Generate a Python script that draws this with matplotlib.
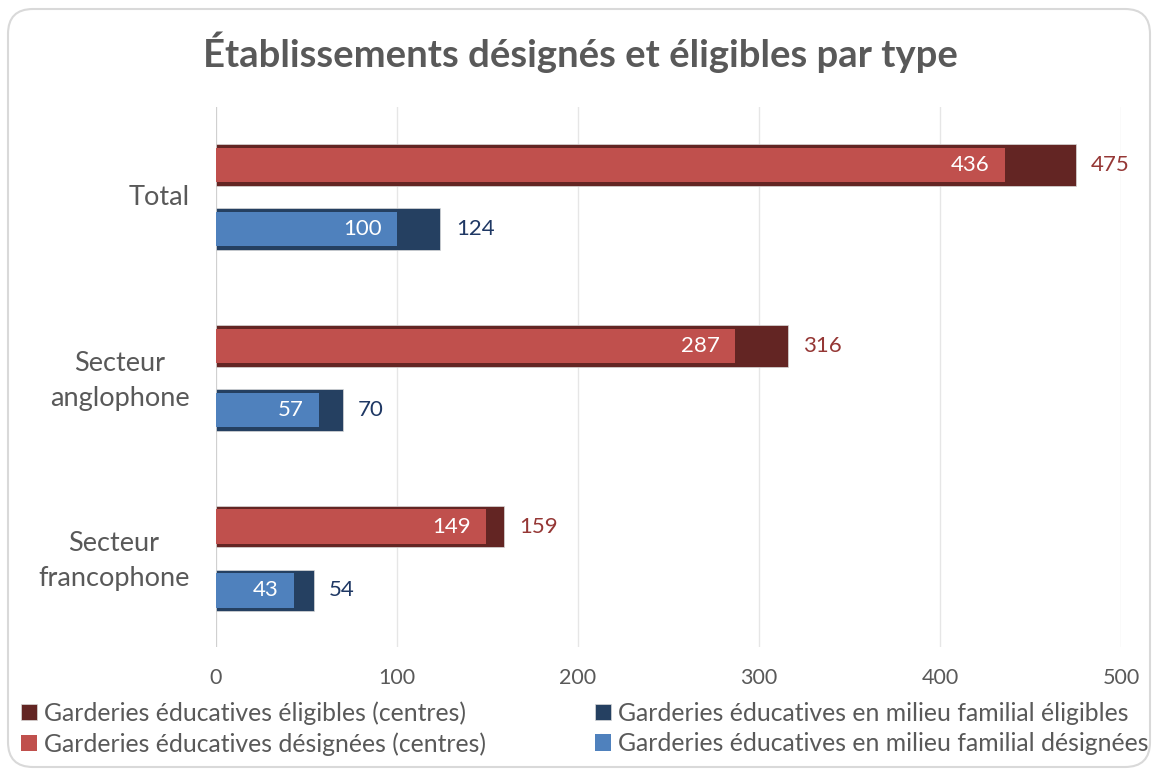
import numpy as np
import matplotlib.pyplot as plt
from matplotlib.patches import FancyBboxPatch

plt.rcParams['font.family'] = ['Lato', 'DejaVu Sans']

# data
categories = ['Total', 'Secteur\nanglophone', 'Secteur\nfrancophone']
centres_eligibles = [475, 316, 159]
centres_designees = [436, 287, 149]
familial_eligibles = [124, 70, 54]
familial_designees = [100, 57, 43]
x_ticks = [0, 100, 200, 300, 400, 500]

legend_labels = ['Garderies éducatives éligibles (centres)',
                 'Garderies éducatives désignées (centres)',
                 'Garderies éducatives en milieu familial éligibles',
                 'Garderies éducatives en milieu familial désignées']

dark_red = '#632523'
light_red = '#C0504D'
dark_blue = '#254061'
light_blue = '#4F81BD'
grey_txt = '#595959'

fig = plt.figure(figsize=(11.52, 7.69), dpi=100)
ax = fig.add_axes([216 / 1152, 1 - 647 / 769, (1121 - 216) / 1152, (647 - 107) / 769])

y = np.arange(len(categories))
off = 0.177
h_out = 0.232
h_in = 0.19

b1 = ax.barh(y - off, centres_eligibles, height=h_out, color=dark_red, edgecolor='#d9d9d9', linewidth=0.5, zorder=2)
b2 = ax.barh(y - off, centres_designees, height=h_in, color=light_red, zorder=3)
b3 = ax.barh(y + off, familial_eligibles, height=h_out, color=dark_blue, edgecolor='#d9d9d9', linewidth=0.5, zorder=2)
b4 = ax.barh(y + off, familial_designees, height=h_in, color=light_blue, zorder=3)

# labels
for i in range(len(categories)):
    ax.annotate(str(centres_designees[i]), (centres_designees[i], y[i] - off), xytext=(-11, 0),
                textcoords='offset points', ha='right', va='center', color='white', fontsize=16, zorder=4)
    ax.annotate(str(centres_eligibles[i]), (centres_eligibles[i], y[i] - off), xytext=(11, 0),
                textcoords='offset points', ha='left', va='center', color='#953735', fontsize=16)
    ax.annotate(str(familial_designees[i]), (familial_designees[i], y[i] + off), xytext=(-11, 0),
                textcoords='offset points', ha='right', va='center', color='white', fontsize=16, zorder=4)
    ax.annotate(str(familial_eligibles[i]), (familial_eligibles[i], y[i] + off), xytext=(11, 0),
                textcoords='offset points', ha='left', va='center', color='#1F3864', fontsize=16)

ax.set_xlim(0, 500)
ax.set_ylim(2.49, -0.5)
ax.set_xticks(x_ticks)
ax.set_xticklabels([str(t) for t in x_ticks], color=grey_txt, fontsize=15.5)
ax.set_yticks(y)
ax.set_yticklabels([])

# category labels drawn as text so two-line ones can be nudged a little
for i, cat in enumerate(categories):
    dy = -2 if '\n' in cat else -0.5
    ax.annotate(cat, (0, y[i]), xycoords=('axes fraction', 'data'), xytext=(-19, dy),
                textcoords='offset points', ha='right', va='center', multialignment='center',
                color=grey_txt, fontsize=19.5, linespacing=1.5)

ax.tick_params(axis='both', length=0)
ax.tick_params(axis='x', pad=15)
for s in ax.spines.values():
    s.set_visible(False)
ax.grid(axis='x', color='#e6e6e6', linewidth=1, zorder=0)
ax.axvline(0, color='#d0d0d0', linewidth=1.5, zorder=1)
ax.set_axisbelow(True)

fig.text(0.504, 1 - 52 / 769, 'Établissements désignés et éligibles par type',
         ha='center', va='center', fontsize=27.5, fontweight='bold', color=grey_txt)

leg = fig.legend([b1, b2, b3, b4], legend_labels, ncol=2, loc='upper left',
                 bbox_to_anchor=(0.018, 1 - 701 / 769), frameon=False, fontsize=17.8,
                 handlelength=0.65, handleheight=0.65, handletextpad=0.3,
                 columnspacing=4.4, labelspacing=0.3, labelcolor=grey_txt,
                 borderaxespad=0, borderpad=0)

border = FancyBboxPatch((8, 2), 1142, 758, boxstyle='round,pad=0,rounding_size=25',
                        transform=None, facecolor='none', edgecolor='#d9d9d9', linewidth=1.5)
fig.patches.append(border)

fig.savefig('out.png', dpi=100)
